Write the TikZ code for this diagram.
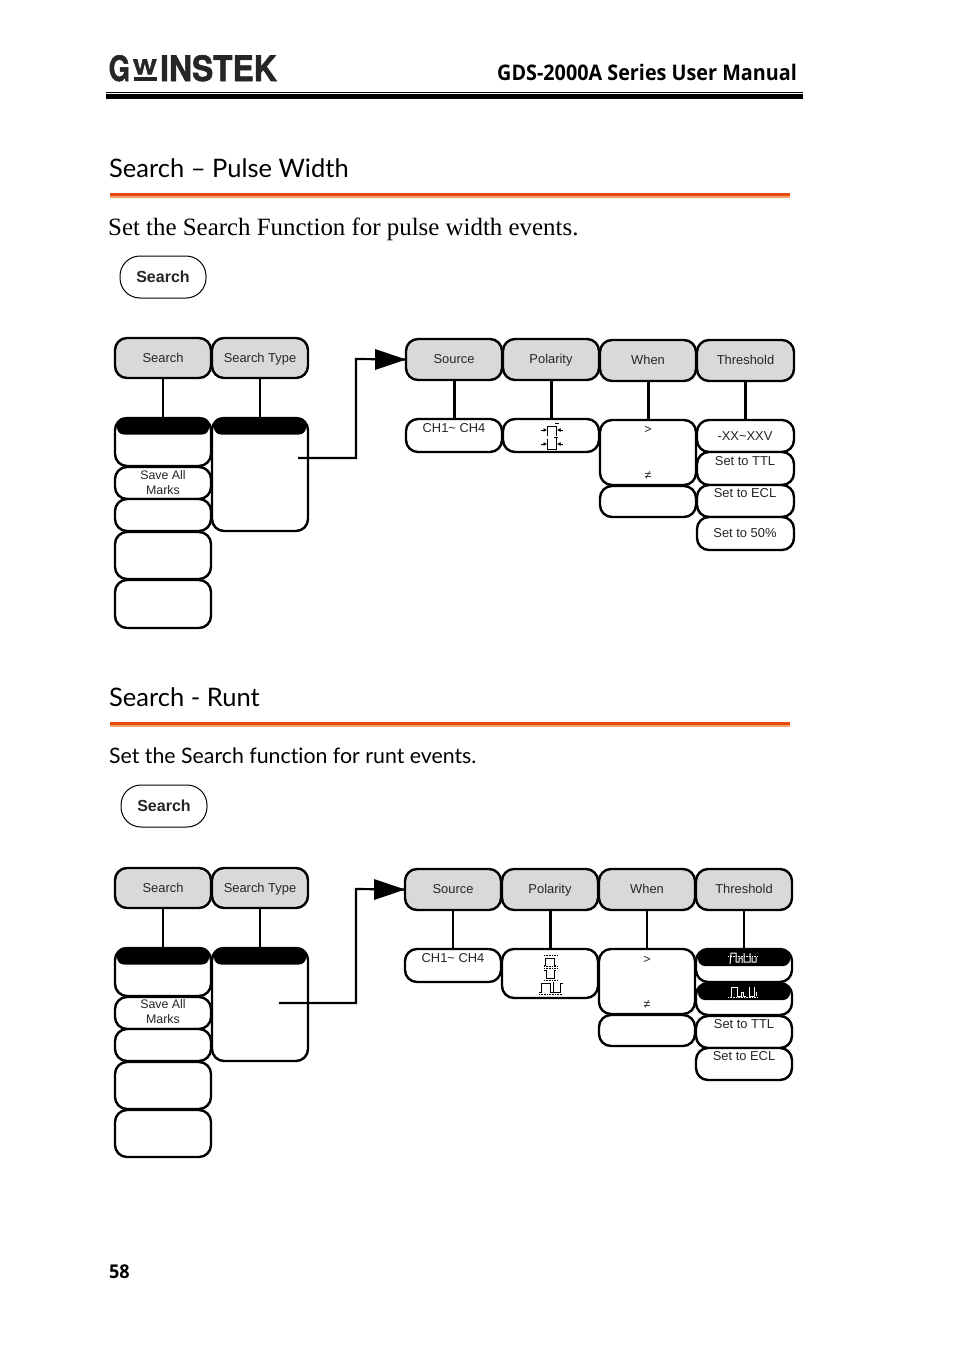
\documentclass[tikz,border=0pt]{standalone}
\usepackage{fontspec}
\setmainfont{Liberation Sans}
\newfontfamily\titlef[Ligatures=NoCommon]{Lato}
\newfontfamily\headf{Open Sans}
\newfontfamily\serf[BoldFeatures={FakeBold=1.6}]{TeX Gyre Heros}
\newfontfamily\bookf{Liberation Serif}
\usetikzlibrary{arrows.meta}
\definecolor{btngray}{HTML}{D9D9D9}
\definecolor{rulecol}{HTML}{E84A05}
\definecolor{rulelight}{HTML}{F5A36B}
\tikzset{
  btn/.style={draw=black,line width=2.4pt,rounded corners=12pt,inner sep=0pt,outer sep=0pt,fill=white},
  gbtn/.style={btn,fill=btngray},
  blackbar/.style={fill=black,rounded corners=7pt,inner sep=0pt,outer sep=0pt},
  txt/.style={inner sep=0pt,outer sep=0pt,font=\fontsize{12.9}{14}\selectfont,text=black!85},
  lbl/.style={txt,text height=11.5pt,text depth=2.8pt},
  small/.style={txt,font=\fontsize{12.4}{15}\selectfont},
  link/.style={line width=2.2pt,draw=black},
  thick link/.style={line width=3pt,draw=black},
  thin icon/.style={line width=1pt,draw=black},
  dot icon/.style={line width=.6pt,draw=black,densely dotted},
  wicon/.style={line width=1pt,draw=white},
  wdot/.style={line width=.6pt,draw=white,densely dotted},
  title/.style={inner sep=0pt,anchor=base west,font=\titlef\fontsize{25.5}{30}\selectfont},
  orule/.style={fill=rulecol,draw=none},
  orulelow/.style={fill=rulelight,draw=none},
  logo/.style={inner sep=0,anchor=base west,text=black!85,font=\serf\bfseries\fontsize{35}{36}\selectfont},
}
\newcommand{\bx}[6][btn]{\node[#1,minimum width=#4-#3,minimum height=#6-#5] (#2) at ({(#3+#4)/2},{(#5+#6)/2}) {};}
\begin{document}
\begin{tikzpicture}[x=1pt,y=-1pt]
\useasboundingbox (0,0) rectangle (954,1349);
\fill[white] (0,0) rectangle (954,1349);

% header
\node[logo,xscale=.78] (logoG) at (108.5,81) {G};
\node[logo,font=\serf\bfseries\fontsize{21}{22}\selectfont,xscale=1.22] (logoW) at (132.5,74.5) {W};
\fill[black!85] (134,76.5) rectangle (157,81);
\node[logo,xscale=.91] (logoI) at (160,81) {INSTEK};
\node[inner sep=0,anchor=base east,font=\headf\bfseries\fontsize{21.5}{24}\selectfont,xscale=.92] (head) at (797,80) {GDS-2000A Series User Manual};
\fill (106,91.5) rectangle (803,92.5);
\fill (106,94) rectangle (803,99);

% section 1
\node[title] (t1) at (109,177.3) {Search – Pulse Width};
\fill[orule] (110,193) rectangle (790,196);
\fill[orulelow] (110,196) rectangle (790,198);
\node[inner sep=0,anchor=base west,font=\bookf\fontsize{24.9}{28}\selectfont] (s1) at (108,235) {Set the Search Function for pulse width events.};
\node[btn,rounded corners=20pt,line width=1pt,minimum width=86,minimum height=42,font=\bfseries\fontsize{16}{18}\selectfont,text=black!85] (k1) at (163,277) {Search};

\bx[gbtn]{a1}{115}{211}{338}{378}
\bx[gbtn]{a2}{212}{308}{338}{378}
\node[lbl] at (a1) {Search};
\node[lbl] at (a2) {Search Type};
\bx{b1}{115}{211}{418}{466}
\bx{b2}{115}{211}{467}{499}
\bx{b3}{115}{211}{499}{531}
\bx{b4}{115}{211}{532}{579}
\bx{b5}{115}{211}{580}{628}
\bx{c1}{212}{308}{418}{531}
\node[blackbar,minimum width=92,minimum height=17] (bb1) at (163,426) {};
\node[blackbar,minimum width=92,minimum height=17] (bc1) at (260,426) {};
\node[small,align=center] at (163,482.5) {Save All\\Marks};
\draw[link] (a1.south) -- (b1.north);
\draw[link] (a2.south) -- (c1.north);

\bx[gbtn]{d1}{406}{502}{339}{380}
\bx[gbtn]{d2}{503}{599}{339}{380}
\bx[gbtn]{d3}{600}{696}{340}{381}
\bx[gbtn]{d4}{697}{794}{340}{381}
\node[lbl] at (d1) {Source};
\node[lbl] at (d2) {Polarity};
\node[lbl] at (d3) {When};
\node[lbl] at (d4) {Threshold};
\bx{e1}{406}{502}{419}{452}
\bx{e2}{503}{599}{419}{452}
\bx{e3}{600}{696}{420}{485}
\bx{e4}{600}{696}{486}{517}
\bx{f1}{697}{794}{420}{452}
\bx{f2}{697}{794}{452}{485}
\bx{f3}{697}{794}{485}{517}
\bx{f4}{697}{794}{517}{550}
\draw[thick link] (d1.south) -- (e1.north);
\draw[thick link] (d2.south) -- (e2.north);
\draw[thick link] (d3.south) -- (e3.north);
\draw[link] (d4.south) -- (f1.north);
\node[lbl] at (454,428) {CH1\textasciitilde{} CH4};
\node[small] at (648,430) {>};
\node[small] at (648,476) {≠};
\node[lbl] at (745,436) {-XX\textasciitilde XXV};
\node[lbl] at (745,461) {Set to TTL};
\node[lbl] at (745,493) {Set to ECL};
\node[lbl] at (745,533) {Set to 50\%};
% polarity icons 1
\draw[thin icon] (547,436)--(547,426)--(556,426)--(556,436);
\draw[thin icon] (547,439)--(547,449)--(556,449)--(556,438);
\foreach \yy in {430,444}{
  \draw[thin icon,-{Latex[length=3.5pt,width=4pt]}] (541,\yy)--(547,\yy);
  \draw[thin icon,-{Latex[length=3.5pt,width=4pt]}] (563,\yy)--(557,\yy);
}
\draw[thin icon] (555,423.5)--(559,423.5);
\draw[thin icon] (554,437.5)--(558,437.5);

\coordinate (g1) at (298,458);
\coordinate (h1) at (356,458);
\coordinate (i1) at (356,359);
\draw[link] (g1)--(h1)--(i1)--(d1.west);
\fill (d1.west) -- (375,349) -- (375,370) -- cycle;

% section 2
\node[title] (t2) at (109,706.3) {Search - Runt};
\fill[orule] (110,722) rectangle (790,725);
\fill[orulelow] (110,725) rectangle (790,727);
\node[inner sep=0,anchor=base west,font=\titlef\fontsize{21.3}{26}\selectfont] (s2) at (109,763.5) {Set the Search function for runt events.};
\node[btn,rounded corners=20pt,line width=1pt,minimum width=86,minimum height=42,font=\bfseries\fontsize{16}{18}\selectfont,text=black!85] (k2) at (164,806) {Search};

\bx[gbtn]{a3}{115}{211}{868}{908}
\bx[gbtn]{a4}{212}{308}{868}{908}
\node[lbl] at (a3) {Search};
\node[lbl] at (a4) {Search Type};
\bx{m1}{115}{211}{948}{996}
\bx{m2}{115}{211}{997}{1029}
\bx{m3}{115}{211}{1029}{1061}
\bx{m4}{115}{211}{1062}{1109}
\bx{m5}{115}{211}{1110}{1157}
\bx{n1}{212}{308}{948}{1061}
\node[blackbar,minimum width=92,minimum height=17] (bb2) at (163,956) {};
\node[blackbar,minimum width=92,minimum height=17] (bc2) at (260,956) {};
\node[small,align=center] at (163,1012) {Save All\\Marks};
\draw[link] (a3.south) -- (m1.north);
\draw[link] (a4.south) -- (n1.north);

\bx[gbtn]{p1}{405}{501}{869}{910}
\bx[gbtn]{p2}{502}{598}{869}{910}
\bx[gbtn]{p3}{599}{695}{869}{910}
\bx[gbtn]{p4}{696}{792}{869}{910}
\node[lbl] at (p1) {Source};
\node[lbl] at (p2) {Polarity};
\node[lbl] at (p3) {When};
\node[lbl] at (p4) {Threshold};
\bx{q1}{405}{501}{949}{982}
\bx{q2}{502}{598}{949}{998}
\bx{q3}{599}{695}{949}{1014}
\bx{q4}{599}{695}{1015}{1046}
\bx{r1}{696}{792}{949}{982}
\bx{r2}{696}{792}{983}{1015}
\bx{r3}{696}{792}{1016}{1048}
\bx{r4}{696}{792}{1048}{1080}
\node[blackbar,minimum width=92,minimum height=16] (br1) at (744,958) {};
\node[blackbar,minimum width=92,minimum height=16] (br2) at (744,992) {};
\draw[link] (p1.south) -- (q1.north);
\draw[thick link] (p2.south) -- (q2.north);
\draw[link] (p3.south) -- (q3.north);
\draw[link] (p4.south) -- (r1.north);
\node[lbl] at (453,958) {CH1\textasciitilde{} CH4};
\node[small] at (647,960) {>};
\node[small] at (647,1005) {≠};
\node[lbl] at (744,1024) {Set to TTL};
\node[lbl] at (744,1056) {Set to ECL};
% polarity icons 2
\draw[dot icon] (544,955.5)--(557,955.5) (544,966.5)--(557,966.5);
\draw[thin icon] (544,965.5)--(545.5,965.5)--(545.5,958)--(554.5,958)--(554.5,965.5)--(556,965.5);
\draw[dot icon] (544,968.5)--(557,968.5) (544,980)--(557,980);
\draw[thin icon] (544,970)--(546,970)--(546,978)--(554,978)--(554,970)--(556,970);
\draw[thin icon] (539,992)--(541,992)--(541,983)--(550,983)--(550,992)--(553,992)--(553,982)
  (553,992)--(560,992)--(560,983)--(563,983);
\draw[dot icon] (539,994)--(562,994);
% threshold icons
\draw[wicon] (730,964)--(731,953)--(736,953)--(736,962)--(739,962)--(739,958)--(742,958)--(742,963)
  (744,953)--(744,962)--(750,962)--(750,953) (752,957)--(752,962)--(756,962)--(756,957);
\draw[wdot] (728,956)--(758,956);
\draw[wicon] (731,997)--(731,987)--(737,987)--(737,996)--(741,996)--(741,992)--(743,992)--(743,996)--(746,996)
  (749,987)--(749,996)--(754,996)--(754,987) (756,992)--(756,996);
\draw[wdot] (728,997)--(758,997);

\coordinate (g2) at (279,1003);
\coordinate (h2) at (356,1003);
\coordinate (i2) at (356,889);
\draw[link] (g2)--(h2)--(i2)--(p1.west);
\fill (p1.west) -- (374,879) -- (374,900) -- cycle;

\node[inner sep=0,anchor=base west,font=\headf\bfseries\fontsize{19}{22}\selectfont,xscale=.95] (pg) at (109,1278) {58};
\end{tikzpicture}
\end{document}
